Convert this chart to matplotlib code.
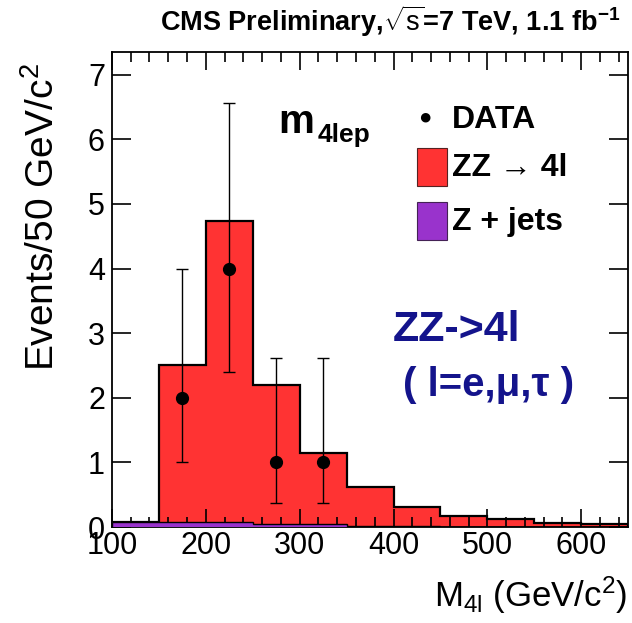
import numpy as np
import matplotlib
matplotlib.use("Agg")
import matplotlib.pyplot as plt
from matplotlib.patches import Rectangle
from matplotlib.ticker import MultipleLocator

plt.rcParams['font.family'] = ['Liberation Sans', 'DejaVu Sans']
plt.rcParams['mathtext.fontset'] = 'custom'
plt.rcParams['mathtext.rm'] = 'Liberation Sans'
plt.rcParams['mathtext.it'] = 'Liberation Sans:italic'
plt.rcParams['mathtext.bf'] = 'Liberation Sans:bold'

# ---- data ----
bin_edges = [100, 150, 200, 250, 300, 350, 400, 450, 500, 550, 600, 650]
zz_4l = [0.0, 2.42, 4.66, 2.16, 1.11, 0.60, 0.30, 0.17, 0.12, 0.065, 0.035]
z_jets = [0.08, 0.08, 0.08, 0.04, 0.04, 0.015, 0.01, 0.008, 0.006, 0.005, 0.005]
data_x = [175, 225, 275, 325]
data_y = [2, 4, 1, 1]
data_err_lo = [1.0, 1.6, 0.63, 0.63]
data_err_hi = [2.0, 2.56, 1.62, 1.62]
x_ticks = [100, 200, 300, 400, 500, 600]
y_ticks = [0, 1, 2, 3, 4, 5, 6, 7]

red = '#ff3333'
purple = '#9933cc'

fig = plt.figure(figsize=(6.32, 6.23), dpi=100)
ax = fig.add_axes([0.177, 0.154, 0.817, 0.7625])

edges = np.array(bin_edges)
total = np.array(zz_4l) + np.array(z_jets)
ax.stairs(total, edges, fill=True, color=red, zorder=1)
ax.stairs(total, edges, color='black', lw=1.6, zorder=2)
ax.stairs(z_jets, edges, fill=True, color=purple, zorder=3)
ax.stairs(z_jets, edges, color='black', lw=1.0, zorder=4)

ax.errorbar(data_x, data_y, yerr=[data_err_lo, data_err_hi], fmt='o',
            color='black', ms=8.5, elinewidth=1.0, capsize=4, capthick=1.0, zorder=5)

ax.set_xlim(100, 650)
ax.set_ylim(0, 7.35)
ax.set_xticks(x_ticks)
ax.set_yticks(y_ticks)
ax.xaxis.set_minor_locator(MultipleLocator(20))
ax.tick_params(axis='both', which='both', direction='in', top=True, right=True,
               labelsize=22, width=1.2)
ax.tick_params(axis='x', which='major', length=13, pad=3)
ax.tick_params(axis='x', which='minor', length=7)
ax.tick_params(axis='y', which='major', length=14, pad=5)
for s in ax.spines.values():
    s.set_linewidth(1.3)

fig.text(0.068, 0.899, 'Events/50 GeV/c$^{2}$', fontsize=28, rotation=90,
         ha='center', va='top')
fig.text(0.993, 0.012, r'M$_{\mathrm{4l}}$ (GeV/c$^{2}$)', fontsize=25, ha='right', va='bottom')

fig.text(0.618, 0.966, r'CMS Preliminary,$\sqrt{\mathrm{s}}$=7 TeV, 1.1 fb$^{\mathbf{-1}}$',
         fontsize=19.5, fontweight='bold', ha='center', va='center')

# m4lep label
fig.text(0.440, 0.787, r'm', fontsize=29, fontweight='bold', ha='left', va='baseline')
fig.text(0.502, 0.772, r'4lep', fontsize=19, fontweight='bold', ha='left', va='baseline')

# legend (manual)
fig.text(0.672, 0.810, '\u25cf', fontsize=16, ha='center', va='center')
fig.text(0.715, 0.808, 'DATA', fontsize=23, fontweight='bold', ha='left', va='center')
fig.patches.append(Rectangle((0.660, 0.702), 0.047, 0.061, transform=fig.transFigure,
                             facecolor=red, edgecolor='#552222', lw=0.8))
fig.text(0.715, 0.731, 'ZZ \u2192 4l', fontsize=23, fontweight='bold', ha='left', va='center')
fig.patches.append(Rectangle((0.660, 0.614), 0.047, 0.061, transform=fig.transFigure,
                             facecolor=purple, edgecolor='#442255', lw=0.8))
fig.text(0.715, 0.643, 'Z + jets', fontsize=23, fontweight='bold', ha='left', va='center')

navy = '#14148c'
fig.text(0.622, 0.452, 'ZZ->4l', fontsize=31, fontweight='bold', color=navy, ha='left', va='baseline')
fig.text(0.637, 0.364, '( l=e,\u03bc,\u03c4 )', fontsize=29, fontweight='bold', color=navy,
         ha='left', va='baseline')

fig.savefig('out.png', dpi=100)
